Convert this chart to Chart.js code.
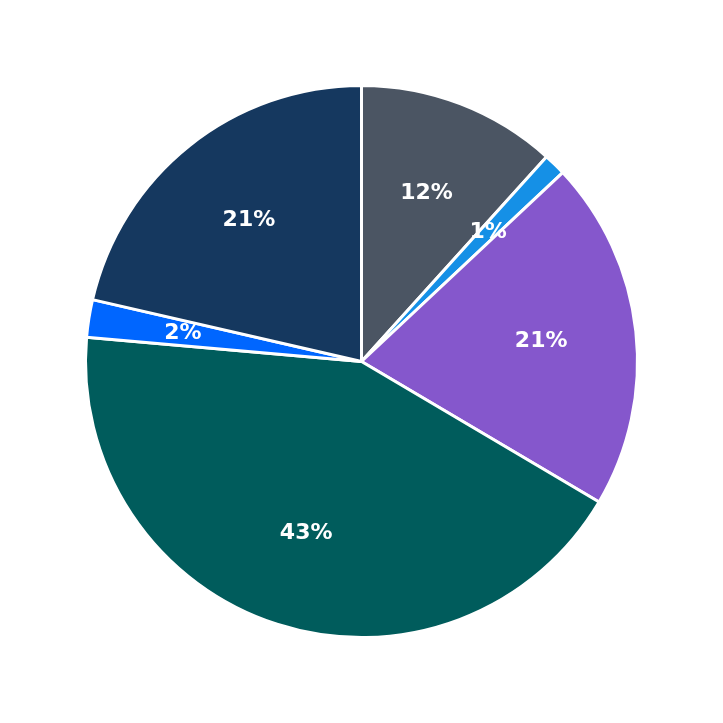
<!DOCTYPE html>
<html>
<head>
<meta charset="utf-8">
<script src="https://cdn.jsdelivr.net/npm/chart.js@4/dist/chart.umd.min.js"></script>
<style>
html,body{margin:0;padding:0;background:#fff;}
#wrap{width:723px;height:723px;}
</style>
</head>
<body>
<div id="wrap"><canvas id="c" width="723" height="723"></canvas></div>
<script>
const categories = ["A", "B", "C", "D", "E", "F"];
const values = [11.7, 1.3, 20.5, 42.9, 2.2, 21.4];
const colors = ["#4b5563", "#1590e6", "#8557cc", "#005c5c", "#0066ff", "#15385f"];

const pctLabels = {
  id: 'pctLabels',
  afterDatasetsDraw(chart) {
    const ctx = chart.ctx;
    const meta = chart.getDatasetMeta(0);
    const data = chart.data.datasets[0].data;
    const total = data.reduce((a, b) => a + b, 0);
    ctx.save();
    ctx.fillStyle = '#ffffff';
    ctx.font = 'bold 22px "DejaVu Sans"';
    ctx.textAlign = 'center';
    ctx.textBaseline = 'middle';
    meta.data.forEach((arc, i) => {
      const p = arc.getProps(['x', 'y', 'startAngle', 'endAngle', 'outerRadius'], true);
      const mid = (p.startAngle + p.endAngle) / 2;
      const r = p.outerRadius * 0.655;
      const x = p.x + Math.cos(mid) * r;
      const y = p.y + Math.sin(mid) * r;
      ctx.fillText(Math.round(data[i] / total * 100) + '%', x, y);
    });
    ctx.restore();
  }
};

new Chart(document.getElementById('c'), {
  type: 'pie',
  data: {
    labels: categories,
    datasets: [{
      data: values,
      backgroundColor: colors,
      borderColor: '#ffffff',
      borderWidth: 3,
      hoverOffset: 0,
      hoverBorderWidth: 3
    }]
  },
  options: {
    responsive: false,
    animation: false,
    layout: { padding: 84 },
    plugins: {
      legend: { display: false },
      tooltip: { enabled: false }
    }
  },
  plugins: [pctLabels]
});
</script>
</body>
</html>
